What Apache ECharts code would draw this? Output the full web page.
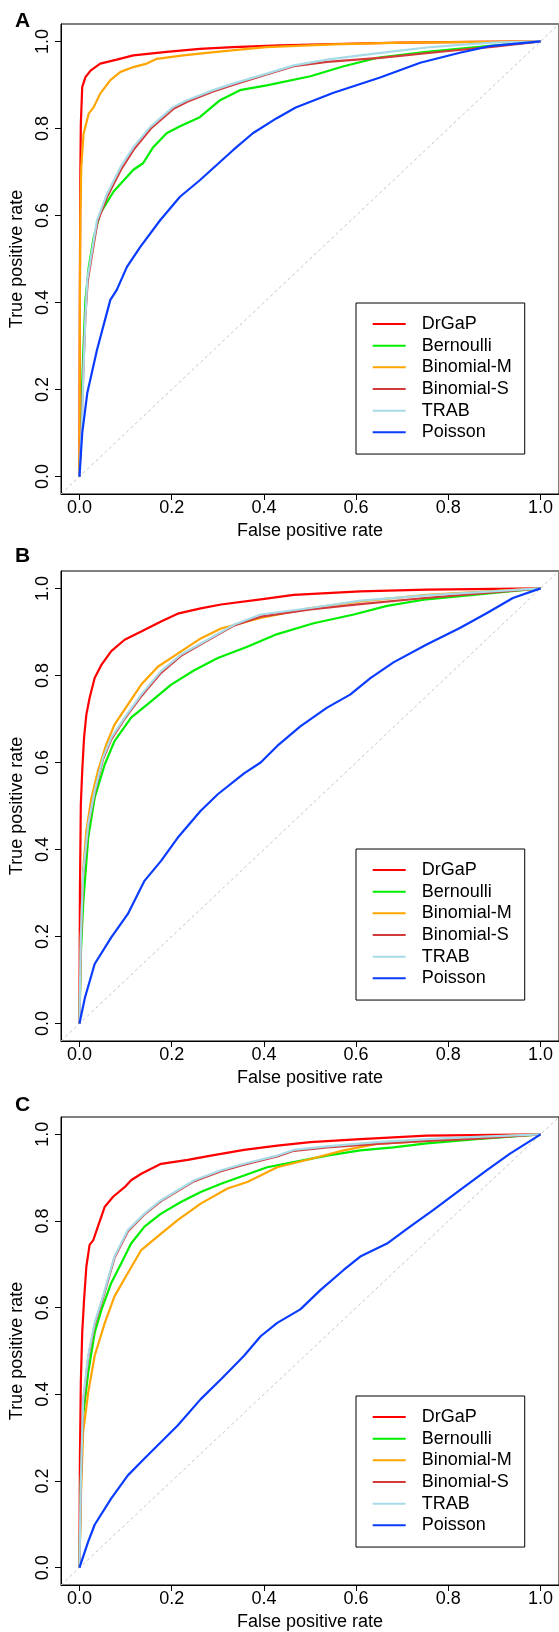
<!DOCTYPE html>
<html><head><meta charset="utf-8">
<script src="https://cdn.jsdelivr.net/npm/echarts@6/dist/echarts.min.js"></script>
<style>html,body{margin:0;padding:0;background:#fff}#c{width:559px;height:1632px}</style>
</head><body><div id="c"></div>
<script>
const seriesNames = ['DrGaP','Bernoulli','Binomial-M','Binomial-S','TRAB','Poisson'];
const seriesColors = ['#ff0000','#00ee00','#ffa500','#d33a3a','#a8dbe8','#0a3cff'];
const tickValues = [0,0.2,0.4,0.6,0.8,1.0];
const panelLabels = ['A','B','C'];
const xTitle = 'False positive rate';
const yTitle = 'True positive rate';

// Panel A
const A_DrGaP = [[0,0],[0.001,0.45],[0.002,0.7],[0.003,0.81],[0.006,0.895],[0.013,0.918],[0.024,0.933],[0.045,0.949],[0.081,0.958],[0.117,0.968],[0.189,0.976],[0.261,0.983],[0.333,0.987],[0.434,0.991],[0.55,0.994],[0.7,0.997],[0.85,0.999],[1,1]];
const A_Bernoulli = [[0,0],[0.004,0.15],[0.008,0.28],[0.013,0.406],[0.02,0.48],[0.031,0.55],[0.045,0.605],[0.074,0.655],[0.117,0.705],[0.138,0.72],[0.16,0.757],[0.189,0.789],[0.218,0.805],[0.261,0.826],[0.305,0.865],[0.348,0.888],[0.406,0.899],[0.501,0.92],[0.573,0.943],[0.645,0.962],[0.753,0.976],[0.861,0.987],[1,1]];
const A_BinomialM = [[0,0],[0.001,0.4],[0.002,0.6],[0.004,0.712],[0.009,0.788],[0.02,0.834],[0.031,0.849],[0.045,0.88],[0.067,0.911],[0.089,0.93],[0.117,0.941],[0.146,0.949],[0.168,0.96],[0.225,0.968],[0.297,0.976],[0.405,0.987],[0.55,0.993],[0.7,0.997],[1,1]];
const A_BinomialS = [[0,0],[0.005,0.13],[0.009,0.26],[0.013,0.37],[0.018,0.45],[0.039,0.585],[0.061,0.645],[0.09,0.705],[0.118,0.752],[0.155,0.8],[0.205,0.846],[0.235,0.862],[0.29,0.885],[0.333,0.9],[0.406,0.924],[0.465,0.943],[0.537,0.953],[0.652,0.962],[0.8,0.978],[0.9,0.988],[1,1]];
const A_TRAB = [[0,0],[0.006,0.138],[0.009,0.253],[0.013,0.368],[0.017,0.452],[0.038,0.589],[0.06,0.65],[0.089,0.711],[0.117,0.757],[0.153,0.803],[0.203,0.849],[0.233,0.865],[0.29,0.888],[0.333,0.903],[0.406,0.926],[0.465,0.945],[0.537,0.958],[0.609,0.968],[0.681,0.977],[0.753,0.986],[0.825,0.992],[0.897,0.997],[1,1]];
const A_Poisson = [[0,0],[0.006,0.1],[0.017,0.192],[0.038,0.291],[0.067,0.406],[0.081,0.429],[0.103,0.482],[0.132,0.528],[0.175,0.589],[0.218,0.643],[0.261,0.681],[0.333,0.75],[0.376,0.789],[0.427,0.823],[0.469,0.848],[0.551,0.882],[0.652,0.917],[0.739,0.951],[0.825,0.974],[0.89,0.989],[1,1]];

// Panel B
const B_DrGaP = [[0,0],[0.001,0.3],[0.003,0.504],[0.006,0.58],[0.01,0.657],[0.015,0.71],[0.022,0.748],[0.033,0.794],[0.048,0.825],[0.069,0.856],[0.098,0.882],[0.134,0.901],[0.177,0.924],[0.213,0.942],[0.263,0.954],[0.307,0.963],[0.393,0.975],[0.465,0.985],[0.609,0.993],[0.753,0.997],[1,1]];
const B_Bernoulli = [[0,0],[0.003,0.16],[0.008,0.274],[0.019,0.427],[0.033,0.519],[0.055,0.596],[0.076,0.649],[0.112,0.703],[0.156,0.741],[0.199,0.779],[0.249,0.812],[0.3,0.84],[0.364,0.866],[0.429,0.895],[0.508,0.92],[0.595,0.94],[0.667,0.96],[0.753,0.975],[1,1]];
const B_BinomialM = [[0,0],[0.003,0.198],[0.008,0.351],[0.015,0.443],[0.026,0.519],[0.04,0.58],[0.058,0.641],[0.076,0.687],[0.105,0.733],[0.134,0.779],[0.17,0.82],[0.213,0.85],[0.263,0.885],[0.307,0.908],[0.393,0.932],[0.501,0.955],[0.609,0.97],[0.753,0.985],[1,1]];
const B_BinomialS = [[0,0],[0.003,0.19],[0.008,0.34],[0.019,0.455],[0.033,0.53],[0.051,0.607],[0.069,0.653],[0.098,0.7],[0.134,0.752],[0.177,0.806],[0.22,0.845],[0.271,0.876],[0.336,0.915],[0.393,0.935],[0.501,0.952],[0.609,0.964],[0.75,0.978],[1,1]];
const B_TRAB = [[0,0],[0.003,0.198],[0.008,0.345],[0.019,0.458],[0.033,0.534],[0.051,0.611],[0.069,0.657],[0.098,0.703],[0.134,0.756],[0.177,0.81],[0.22,0.848],[0.271,0.878],[0.336,0.917],[0.393,0.94],[0.501,0.955],[0.609,0.972],[0.753,0.984],[1,1]];
const B_Poisson = [[0,0],[0.012,0.06],[0.033,0.137],[0.069,0.198],[0.105,0.252],[0.141,0.328],[0.177,0.374],[0.213,0.427],[0.263,0.489],[0.3,0.527],[0.357,0.575],[0.393,0.6],[0.429,0.638],[0.479,0.683],[0.537,0.726],[0.587,0.756],[0.631,0.794],[0.681,0.83],[0.753,0.871],[0.825,0.909],[0.883,0.943],[0.94,0.978],[1,1]];

// Panel C
const C_DrGaP = [[0,0],[0.001,0.25],[0.003,0.427],[0.006,0.542],[0.01,0.618],[0.015,0.695],[0.022,0.745],[0.03,0.756],[0.04,0.787],[0.055,0.833],[0.073,0.856],[0.098,0.878],[0.112,0.894],[0.134,0.909],[0.177,0.932],[0.235,0.941],[0.285,0.951],[0.357,0.964],[0.429,0.974],[0.501,0.982],[0.609,0.989],[0.753,0.997],[1,1]];
const C_Bernoulli = [[0,0],[0.003,0.198],[0.008,0.351],[0.019,0.45],[0.033,0.542],[0.048,0.596],[0.069,0.657],[0.091,0.703],[0.112,0.748],[0.141,0.787],[0.177,0.817],[0.22,0.844],[0.263,0.867],[0.307,0.886],[0.357,0.905],[0.407,0.924],[0.465,0.936],[0.537,0.951],[0.609,0.963],[0.681,0.97],[0.753,0.979],[0.861,0.989],[1,1]];
const C_BinomialM = [[0,0],[0.003,0.16],[0.008,0.313],[0.019,0.404],[0.033,0.489],[0.055,0.565],[0.076,0.626],[0.105,0.68],[0.134,0.733],[0.177,0.771],[0.213,0.802],[0.263,0.84],[0.321,0.875],[0.364,0.89],[0.429,0.924],[0.501,0.943],[0.573,0.963],[0.645,0.978],[0.753,0.985],[0.861,0.993],[1,1]];
const C_BinomialS = [[0,0],[0.003,0.19],[0.008,0.38],[0.019,0.485],[0.033,0.56],[0.051,0.622],[0.076,0.715],[0.105,0.776],[0.141,0.815],[0.177,0.846],[0.213,0.869],[0.249,0.892],[0.307,0.915],[0.357,0.93],[0.429,0.949],[0.465,0.962],[0.537,0.97],[0.645,0.978],[0.753,0.985],[0.861,0.99],[1,1]];
const C_TRAB = [[0,0],[0.003,0.198],[0.008,0.389],[0.019,0.489],[0.033,0.565],[0.051,0.626],[0.076,0.718],[0.105,0.779],[0.141,0.817],[0.177,0.848],[0.213,0.871],[0.249,0.894],[0.307,0.917],[0.357,0.932],[0.429,0.951],[0.465,0.964],[0.537,0.972],[0.645,0.982],[0.753,0.989],[0.861,0.994],[1,1]];
const C_Poisson = [[0,0],[0.019,0.06],[0.033,0.099],[0.069,0.16],[0.105,0.213],[0.141,0.252],[0.177,0.29],[0.213,0.328],[0.263,0.389],[0.307,0.435],[0.357,0.489],[0.393,0.534],[0.429,0.565],[0.479,0.596],[0.523,0.641],[0.573,0.687],[0.609,0.718],[0.667,0.748],[0.717,0.787],[0.767,0.825],[0.825,0.871],[0.883,0.917],[0.933,0.955],[1,1]];

const panels = [
  [A_DrGaP, A_Bernoulli, A_BinomialM, A_BinomialS, A_TRAB, A_Poisson],
  [B_DrGaP, B_Bernoulli, B_BinomialM, B_BinomialS, B_TRAB, B_Poisson],
  [C_DrGaP, C_Bernoulli, C_BinomialM, C_BinomialS, C_TRAB, C_Poisson]
];

// layout
const FONT = '"Liberation Sans", Arial, Helvetica, sans-serif';
const gridTops = [24, 571, 1117];
const legendTops = [303, 849, 1396];
const letterY = [22.5, 558, 1107];
const GRID_H = 470, GRID_L = 61, GRID_W = 498;

const chart = echarts.init(document.getElementById('c'), null, {renderer: 'canvas'});
const grid = [], xAxis = [], yAxis = [], series = [], legend = [], graphic = [];
const fmt = v => v.toFixed(1);

gridTops.forEach((top, i) => {
  grid.push({left: GRID_L, top: top, width: GRID_W, height: GRID_H, show: true,
             borderColor: '#000', borderWidth: 1, backgroundColor: 'transparent'});
  xAxis.push({type: 'value', gridIndex: i, min: -0.04, max: 1.04,
    axisLine: {show: true, onZero: false, lineStyle: {color: '#000', width: 1}},
    axisTick: {show: true, customValues: tickValues, length: 6, lineStyle: {color: '#000'}},
    axisLabel: {customValues: tickValues, formatter: fmt, fontSize: 18, color: '#000', margin: 5, fontFamily: FONT},
    splitLine: {show: false},
    name: xTitle, nameLocation: 'middle', nameGap: 28,
    nameTextStyle: {fontSize: 18, color: '#000', fontFamily: FONT}});
  yAxis.push({type: 'value', gridIndex: i, min: -0.04, max: 1.04,
    axisLine: {show: true, onZero: false, lineStyle: {color: '#000', width: 1}},
    axisTick: {show: true, customValues: tickValues, length: 6, lineStyle: {color: '#000'}},
    axisLabel: {customValues: tickValues, formatter: fmt, fontSize: 18, color: '#000', margin: 9, rotate: 90, fontFamily: FONT},
    splitLine: {show: false},
    name: yTitle, nameLocation: 'middle', nameGap: 29,
    nameTextStyle: {fontSize: 18, color: '#000', fontFamily: FONT}});
  // reference diagonal
  series.push({type: 'line', xAxisIndex: i, yAxisIndex: i, data: [[-0.04, -0.04], [1.04, 1.04]],
    symbol: 'none', silent: true, z: 1,
    lineStyle: {color: '#c4c4c4', width: 1, type: [3, 3]}});
  panels[i].forEach((d, j) => {
    series.push({type: 'line', name: seriesNames[j], xAxisIndex: i, yAxisIndex: i, data: d,
      symbol: 'none', showSymbol: false, z: 2 + j, color: seriesColors[j],
      lineStyle: {color: seriesColors[j], width: 2.2}});
  });
  legend.push({data: seriesNames.map(n => ({name: n, icon: 'rect'})), orient: 'vertical', left: 356, top: legendTops[i],
    padding: [12, 13, 12.7, 16.7], itemWidth: 33, itemHeight: 2, itemGap: 3.67,
    borderColor: '#000', borderWidth: 1, backgroundColor: '#fff', selectedMode: false,
    textStyle: {fontSize: 18, color: '#000', fontFamily: FONT, lineHeight: 18, padding: [0, 0, 0, 11]}});
  graphic.push({type: 'text', left: 15, top: letterY[i] - 12,
    style: {text: panelLabels[i], fontSize: 21, fontWeight: 'bold', fill: '#000', fontFamily: FONT}});
});

chart.setOption({
  animation: false,
  backgroundColor: '#fff',
  textStyle: {fontFamily: FONT},
  grid, xAxis, yAxis, series, legend, graphic
});
</script></body></html>
